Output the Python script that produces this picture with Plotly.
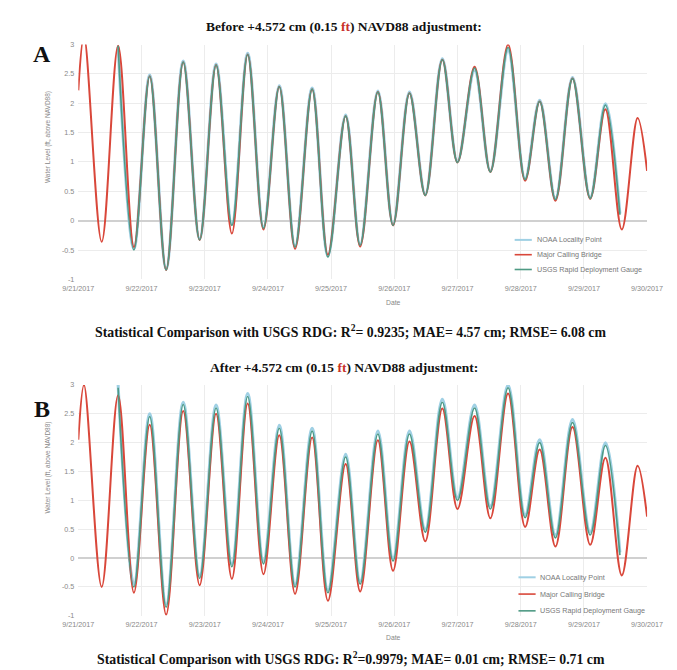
import plotly.graph_objects as go
import pandas as pd

# ---------------- data ----------------
# times of high/low water, as day-of-month in Sept 2017
red_days = [21.00, 21.09, 21.37, 21.63, 21.88, 22.13, 22.39, 22.66, 22.92, 23.18, 23.43,
            23.68, 23.93, 24.18, 24.43, 24.70, 24.95, 25.23, 25.46, 25.74, 25.98, 26.24,
            26.49, 26.76, 27.00, 27.27, 27.52, 27.80, 28.07, 28.30, 28.55, 28.82, 29.10,
            29.34, 29.60, 29.85, 30.00]
red_A = [2.22, 3.15, -0.36, 2.98, -0.45, 2.46, -0.84, 2.70, -0.33, 2.65, -0.22,
         2.83, -0.15, 2.28, -0.48, 2.24, -0.58, 1.78, -0.44, 2.19, -0.08, 2.17,
         0.43, 2.74, 0.99, 2.62, 0.83, 3.00, 0.68, 2.03, 0.34, 2.42, 0.37,
         1.90, -0.15, 1.75, 0.85]
red_B = [2.05, 3.00, -0.50, 2.82, -0.60, 2.31, -0.98, 2.55, -0.47, 2.50, -0.36,
         2.68, -0.28, 2.13, -0.62, 2.09, -0.74, 1.63, -0.58, 2.04, -0.22, 2.02,
         0.29, 2.59, 0.85, 2.46, 0.69, 2.85, 0.54, 1.88, 0.20, 2.27, 0.23,
         1.74, -0.30, 1.60, 0.72]

usgs_days = [21.63, 21.88, 22.13, 22.39, 22.66, 22.92, 23.18, 23.43, 23.68, 23.93, 24.18,
             24.43, 24.70, 24.95, 25.23, 25.46, 25.74, 25.98, 26.24, 26.49, 26.76, 27.00,
             27.27, 27.52, 27.80, 28.07, 28.30, 28.55, 28.82, 29.10, 29.34, 29.57]
usgs_A = [2.98, -0.50, 2.46, -0.84, 2.70, -0.33, 2.65, -0.08, 2.83, -0.13, 2.28,
          -0.45, 2.24, -0.62, 1.78, -0.42, 2.19, -0.08, 2.17, 0.43, 2.74, 0.99,
          2.60, 0.83, 2.95, 0.70, 2.03, 0.36, 2.42, 0.38, 1.97, 0.10]
usgs_B = [2.95, -0.50, 2.45, -0.85, 2.66, -0.35, 2.60, -0.15, 2.80, -0.10, 2.25,
          -0.50, 2.20, -0.60, 1.75, -0.45, 2.15, -0.05, 2.15, 0.45, 2.70, 1.00,
          2.60, 0.85, 2.95, 0.70, 2.00, 0.35, 2.35, 0.40, 1.95, 0.05]
noaa_A = [2.96, -0.48, 2.48, -0.82, 2.72, -0.31, 2.67, -0.06, 2.85, -0.11, 2.30,
          -0.43, 2.26, -0.60, 1.80, -0.40, 2.21, -0.06, 2.19, 0.45, 2.76, 1.01,
          2.56, 0.85, 2.90, 0.72, 2.05, 0.38, 2.44, 0.40, 1.99, 0.12]
noaa_B = [3.00, -0.45, 2.50, -0.80, 2.70, -0.30, 2.65, -0.10, 2.85, -0.05, 2.30,
          -0.45, 2.25, -0.55, 1.80, -0.40, 2.20, 0.00, 2.20, 0.50, 2.75, 1.05,
          2.65, 0.90, 3.00, 0.75, 2.05, 0.40, 2.40, 0.45, 2.00, 0.10]

series_names = ["NOAA Locality Point", "Major Calling Bridge", "USGS Rapid Deployment Gauge"]
series_colors = ["#9fd0e4", "#d9473a", "#4e9a84"]
series_widths = [3, 2, 1.6]

y_ticks = [-1, -0.5, 0, 0.5, 1, 1.5, 2, 2.5, 3]
y_ticktext = ["-1", "-0.5", "0", "0.5", "1", "1.5", "2", "2.5", "3"]

titles = ["Before +4.572 cm (0.15 <span style='color:#c8322a'>ft</span>) NAVD88 adjustment:",
          "After +4.572 cm (0.15 <span style='color:#c8322a'>ft</span>) NAVD88 adjustment:"]
stats = ["Statistical Comparison with USGS RDG: R<sup>2</sup>= 0.9235; MAE= 4.57 cm; RMSE= 6.08 cm",
         "Statistical Comparison with USGS RDG: R<sup>2</sup>=0.9979; MAE= 0.01 cm; RMSE= 0.71 cm"]
panel_letters = ["A", "B"]

# ---------------- helpers ----------------
W, H = 677, 670
def px(x):
    return x / W
def py(y):
    return 1 - y / H

base = pd.Timestamp("2017-09-01")
def to_dt(days):
    return [base + pd.to_timedelta(d - 1, unit="D") for d in days]

fig = go.Figure()

panels = [
    dict(xa="x", ya="y", red=red_A, usgs=usgs_A, noaa=noaa_A),
    dict(xa="x2", ya="y2", red=red_B, usgs=usgs_B, noaa=noaa_B),
]
for p in panels:
    data = [(usgs_days, p["noaa"]), (red_days, p["red"]), (usgs_days, p["usgs"])]
    for k, (d, v) in enumerate(data):
        fig.add_trace(go.Scatter(x=to_dt(d), y=v, mode="lines",
                                 line=dict(color=series_colors[k], width=series_widths[k],
                                           shape="spline", smoothing=1.0),
                                 name=series_names[k], xaxis=p["xa"], yaxis=p["ya"],
                                 showlegend=False))

tickfont = dict(family="Liberation Sans", size=7.2, color="#888888")
xdom = [px(57), px(654)]
common_x = dict(type="date", range=["2017-09-21", "2017-09-30"], tickformat="%-m/%-d/%Y",
                dtick=86400000, tick0="2017-09-21", showgrid=True, gridcolor="#ececec",
                gridwidth=1, zeroline=False, showline=False, ticks="",
                ticklabelstandoff=3, tickfont=tickfont)
common_y = dict(range=[-1, 3], tickvals=y_ticks, ticktext=y_ticktext, showgrid=True,
                gridcolor="#ececec", gridwidth=1, zeroline=True, zerolinecolor="#d0d0d0",
                zerolinewidth=1.5, showline=False, ticks="", ticklabelstandoff=3,
                tickfont=tickfont)

fig.update_layout(
    width=W, height=H, margin=dict(l=0, r=0, t=0, b=0),
    paper_bgcolor="white", plot_bgcolor="white",
    xaxis=dict(domain=xdom, anchor="y", **common_x),
    xaxis2=dict(domain=xdom, anchor="y2", **common_x),
    yaxis=dict(domain=[py(271), py(33)], anchor="x", **common_y),
    yaxis2=dict(domain=[py(612), py(378)], anchor="x2", **common_y),
    showlegend=False,
)

serif = "Liberation Serif"
ann = []
shapes = []
layout_px = [
    dict(ty=15, sy=323, ly=43, dy=294, ay=127, leg=[231, 246, 261], lx=515),
    dict(ty=360, sy=655, ly=402, dy=634, ay=462, leg=[573, 590, 607], lx=519),
]

def add_text(text, x, y, font, angle=0, xanchor="center"):
    ann.append(dict(text=text, x=px(x), y=py(y), xref="paper", yref="paper",
                    xanchor=xanchor, yanchor="middle", showarrow=False,
                    textangle=angle, font=font))

for i, L in enumerate(layout_px):
    add_text("<b>" + titles[i] + "</b>", 336, L["ty"], dict(family=serif, size=13.5, color="#111111"))
    add_text("<b>" + stats[i] + "</b>", 343, L["sy"], dict(family=serif, size=13.8, color="#111111"))
    add_text("<b>" + panel_letters[i] + "</b>", 19, L["ly"], dict(family=serif, size=24, color="#111111"))
    add_text("Date", 388, L["dy"], dict(family="Liberation Sans", size=6.8, color="#888888"))
    add_text("Water Level (ft, above NAVD88)", 25, L["ay"],
             dict(family="Liberation Sans", size=6.5, color="#888888"), angle=-90)
    # legend drawn as sample lines + labels
    for k, yy in enumerate(L["leg"]):
        shapes.append(dict(type="line", xref="paper", yref="paper",
                           x0=px(L["lx"]), x1=px(L["lx"] + 18), y0=py(yy), y1=py(yy),
                           line=dict(color=series_colors[k], width=2 if k == 0 else 1.6)))
        add_text(series_names[k], L["lx"] + 21, yy,
                 dict(family="Liberation Sans", size=7.2, color="#777777"), xanchor="left")
fig.update_layout(annotations=ann, shapes=shapes)

fig.write_html("out.html")
